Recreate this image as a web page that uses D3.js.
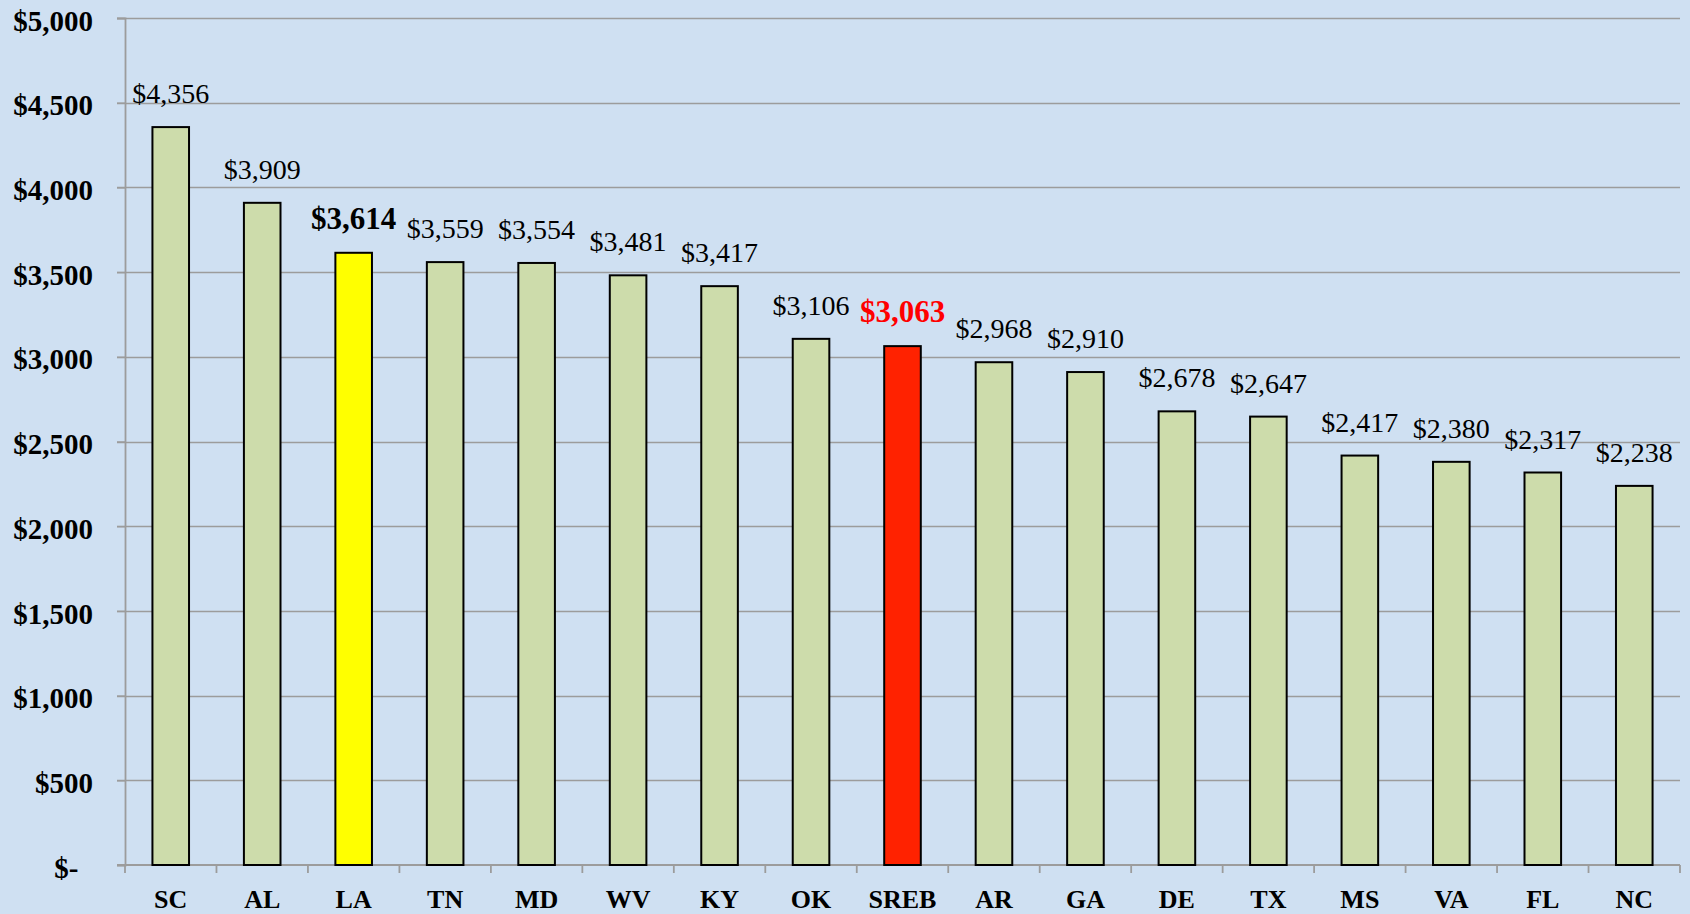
<!DOCTYPE html>
<html>
<head>
<meta charset="utf-8">
<script src="https://cdn.jsdelivr.net/npm/d3@7"></script>
<style>
  html, body { margin: 0; padding: 0; background: #cfe0f2; }
  svg { display: block; }
</style>
</head>
<body>
<div id="chart"></div>
<script>
let states = ["SC", "AL", "LA", "TN", "MD", "WV", "KY", "OK", "SREB", "AR", "GA", "DE", "TX", "MS", "VA", "FL", "NC"];
let values = [4356, 3909, 3614, 3559, 3554, 3481, 3417, 3106, 3063, 2968, 2910, 2678, 2647, 2417, 2380, 2317, 2238];
let highlight = { LA: "yellow", SREB: "red" };
let yTicks = [0, 500, 1000, 1500, 2000, 2500, 3000, 3500, 4000, 4500, 5000];

let data = states.map((s, i) => ({ state: s, value: values[i] }));

let width = 1690;
let height = 914;
let margin = { top: 18, right: 10, bottom: 49, left: 125 };

let fillFor = (d) => {
  if (highlight[d.state] === "yellow") return "#ffff00";
  if (highlight[d.state] === "red") return "#ff2200";
  return "#cddcab";
};

let money = d3.format(",");
let tickFormat = (d) => (d === 0 ? "$-  " : "$" + money(d));

let svg = d3.select("#chart").append("svg")
  .attr("width", width)
  .attr("height", height)
  .style("font-family", "'Liberation Serif', serif");

svg.append("rect").attr("width", width).attr("height", height).attr("fill", "#cfe0f2");

let x = d3.scaleBand()
  .domain(states)
  .range([margin.left, width - margin.right])
  .paddingInner(0.6)
  .paddingOuter(0.3);

let y = d3.scaleLinear()
  .domain([0, 5000])
  .range([height - margin.bottom, margin.top]);

let gridColor = "#9c9c9c";

// gridlines
svg.append("g")
  .selectAll("line")
  .data(yTicks.slice(1))
  .join("line")
  .attr("x1", margin.left - 8)
  .attr("x2", width - margin.right)
  .attr("y1", (d) => Math.round(y(d)) + 0.5)
  .attr("y2", (d) => Math.round(y(d)) + 0.5)
  .attr("stroke", gridColor)
  .attr("stroke-width", 1.5);

// y axis
let yAxis = svg.append("g")
  .attr("transform", `translate(${margin.left},0)`)
  .call(d3.axisLeft(y).tickValues(yTicks).tickFormat(tickFormat).tickSize(8).tickPadding(24));
yAxis.select(".domain").attr("stroke", gridColor).attr("stroke-width", 1.8);
yAxis.selectAll(".tick line").attr("stroke", gridColor).attr("stroke-width", 1.5);
yAxis.selectAll(".tick text")
  .attr("fill", "#000")
  .attr("font-size", 29)
  .attr("font-weight", "bold")
  .attr("font-family", "'Liberation Serif', serif")
  .style("white-space", "pre")
  .attr("dy", "0.42em");

// x axis with ticks between bands
let base = y(0);
let xAxis = svg.append("g");
xAxis.append("line")
  .attr("x1", margin.left - 8)
  .attr("x2", width - margin.right)
  .attr("y1", base)
  .attr("y2", base)
  .attr("stroke", gridColor)
  .attr("stroke-width", 1.8);
let step = x.step();
let bounds = states.map((s) => x(s) - (step - x.bandwidth()) / 2).concat([width - margin.right]);
xAxis.selectAll(".sep")
  .data(bounds)
  .join("line")
  .attr("class", "sep")
  .attr("x1", (d) => d)
  .attr("x2", (d) => d)
  .attr("y1", base)
  .attr("y2", base + 8)
  .attr("stroke", gridColor)
  .attr("stroke-width", 1.8);
xAxis.selectAll("text")
  .data(states)
  .join("text")
  .attr("x", (d) => x(d) + x.bandwidth() / 2)
  .attr("y", base + 43)
  .attr("text-anchor", "middle")
  .attr("font-size", 26)
  .attr("font-weight", "bold")
  .text((d) => d);

// bars
svg.append("g")
  .selectAll("rect")
  .data(data)
  .join("rect")
  .attr("x", (d) => x(d.state))
  .attr("y", (d) => y(d.value))
  .attr("width", x.bandwidth())
  .attr("height", (d) => base - y(d.value))
  .attr("fill", fillFor)
  .attr("stroke", "#000")
  .attr("stroke-width", 2);

// value labels
svg.append("g")
  .selectAll("text")
  .data(data)
  .join("text")
  .attr("x", (d) => x(d.state) + x.bandwidth() / 2)
  .attr("y", (d) => y(d.value) - 24)
  .attr("text-anchor", "middle")
  .attr("font-size", (d) => (highlight[d.state] ? 31 : 28))
  .attr("font-weight", (d) => (highlight[d.state] ? "bold" : "normal"))
  .attr("fill", (d) => (highlight[d.state] === "red" ? "#ff0000" : "#000"))
  .text((d) => "$" + money(d.value));
</script>
</body>
</html>
